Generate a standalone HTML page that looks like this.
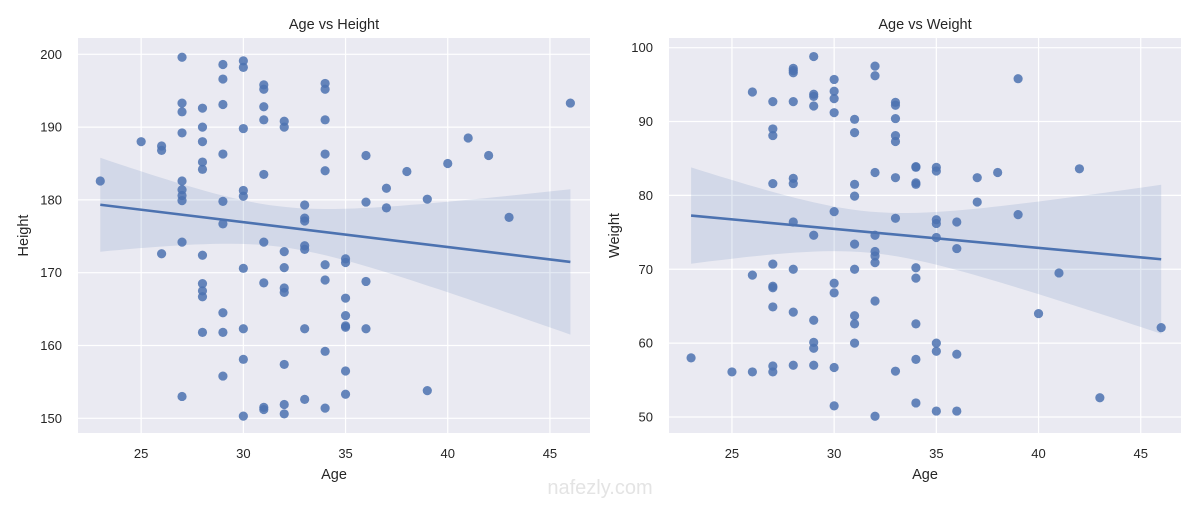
<!DOCTYPE html>
<html><head><meta charset="utf-8"><style>
body{margin:0;background:#fff;}
svg text{font-family:"Liberation Sans",Arial,sans-serif;fill:#262626;}
</style></head><body>
<svg id="chart" width="1200" height="500" xmlns="http://www.w3.org/2000/svg"></svg>
<script>
const ages1=[23,25,26,26,26,27,27,27,27,27,27,27,27,27,27,28,28,28,28,28,28,28,28,28,28,29,29,29,29,29,29,29,29,29,30,30,30,30,30,30,30,30,30,31,31,31,31,31,31,31,31,31,32,32,32,32,32,32,32,32,32,33,33,33,33,33,33,33,34,34,34,34,34,34,34,34,34,35,35,35,35,35,35,35,35,36,36,36,36,37,37,38,39,39,40,41,42,43,46];
const heights=[182.6,188,187.4,186.8,172.6,199.6,193.3,192.1,189.2,182.6,181.4,180.6,179.9,174.2,153,192.6,190,188,185.2,184.2,172.4,168.5,167.5,166.7,161.8,198.6,196.6,193.1,186.3,179.8,176.7,164.5,161.8,155.8,199.1,198.2,189.8,181.3,180.5,170.6,162.3,158.1,150.3,195.8,195.2,192.8,191,183.5,174.2,168.6,151.5,151.2,190.8,190,172.9,170.7,167.9,167.3,157.4,151.9,150.6,179.3,177.5,177.1,173.7,173.2,162.3,152.6,196,195.2,191,186.3,184,171.1,169,159.2,151.4,171.9,171.4,166.5,164.1,162.7,162.5,156.5,153.3,186.1,179.7,168.8,162.3,181.6,178.9,183.9,180.1,153.8,185,188.5,186.1,177.6,193.3];
const ages2=[23,25,26,26,26,27,27,27,27,27,27,27,27,27,27,28,28,28,28,28,28,28,28,28,28,29,29,29,29,29,29,29,29,29,30,30,30,30,30,30,30,30,30,31,31,31,31,31,31,31,31,31,32,32,32,32,32,32,32,32,32,33,33,33,33,33,33,33,33,34,34,34,34,34,34,34,34,34,35,35,35,35,35,35,35,35,36,36,36,36,37,37,38,39,39,40,41,42,43,46];
const weights=[58,56.1,94,69.2,56.1,92.7,89,88.1,81.6,70.7,67.7,67.5,64.9,56.9,56.1,97.2,96.9,96.6,92.7,82.3,81.6,76.4,70,64.2,57,98.8,93.7,93.4,92.1,74.6,63.1,60.1,59.3,57,95.7,94.1,93.1,91.2,77.8,68.1,66.8,56.7,51.5,90.3,88.5,81.5,79.9,73.4,70,63.7,62.6,60,97.5,96.2,83.1,74.6,72.4,71.8,70.9,65.7,50.1,92.6,92.2,90.4,88.1,87.3,82.4,76.9,56.2,83.9,83.8,81.7,81.5,70.2,68.8,62.6,57.8,51.9,83.8,83.3,76.7,76.2,74.3,60,58.9,50.8,76.4,72.8,58.5,50.8,82.4,79.1,83.1,95.8,77.4,64,69.5,83.6,52.6,62.1];
const xTicks=[25,30,35,40,45];
const hTicks=[150,160,170,180,190,200];
const wTicks=[50,60,70,80,90,100];

const NS="http://www.w3.org/2000/svg";
const svg=document.getElementById('chart');
function mk(tag,attrs,parent){const e=document.createElementNS(NS,tag);for(const k in attrs)e.setAttribute(k,attrs[k]);(parent||svg).appendChild(e);return e;}

function panel(cfg){
  const {x0,x1,y0,y1,xd,yd,xs,ys,yticks,title,ylabel,key}=cfg;
  const g=mk('g',{});
  
  
  const sx=v=>x0+(v-xd[0])/(xd[1]-xd[0])*(x1-x0);
  const sy=v=>y1-(v-yd[0])/(yd[1]-yd[0])*(y1-y0);
  const bg=mk('rect',{x:x0,y:y0,width:x1-x0,height:y1-y0,fill:'#eaeaf2'},g);
  
  
  xTicks.forEach(t=>{
    const l=mk('line',{x1:sx(t),x2:sx(t),y1:y0,y2:y1,stroke:'#fff','stroke-width':1.2},g);
    
    
    const tx=mk('text',{x:sx(t),y:y1+25,'text-anchor':'middle','font-size':13},g);
    tx.textContent=t;
    
    
  });
  yticks.forEach(t=>{
    const l=mk('line',{x1:x0,x2:x1,y1:sy(t),y2:sy(t),stroke:'#fff','stroke-width':1.2},g);
    
    
    const tx=mk('text',{x:x0-16,y:sy(t)+4.5,'text-anchor':'end','font-size':13},g);
    tx.textContent=t;
    
    
  });
  // regression
  const n=xs.length;
  const mx=xs.reduce((a,b)=>a+b,0)/n, my=ys.reduce((a,b)=>a+b,0)/n;
  let sxx=0,sxy=0;for(let i=0;i<n;i++){sxx+=(xs[i]-mx)**2;sxy+=(xs[i]-mx)*(ys[i]-my);}
  const b=sxy/sxx,a=my-b*mx;
  let sse=0;for(let i=0;i<n;i++)sse+=(ys[i]-a-b*xs[i])**2;
  const s=Math.sqrt(sse/(n-2));
  const xmin=Math.min(...xs),xmax=Math.max(...xs);
  const up=[],lo=[];
  for(let k=0;k<=50;k++){
    const xv=xmin+(xmax-xmin)*k/50;
    const yh=a+b*xv;
    const se=1.984*s*Math.sqrt(1/n+(xv-mx)**2/sxx);
    up.push(sx(xv).toFixed(1)+','+sy(yh+se).toFixed(1));
    lo.unshift(sx(xv).toFixed(1)+','+sy(yh-se).toFixed(1));
  }
  const band=mk('polygon',{points:up.concat(lo).join(' '),fill:'#4c72b0','fill-opacity':0.15},g);
  
  
  for(let i=0;i<n;i++){
    const c=mk('circle',{cx:sx(xs[i]),cy:sy(ys[i]),r:4.6,fill:'#4c72b0','fill-opacity':0.85},g);
    
    
  }
  const ln=mk('line',{x1:sx(xmin),y1:sy(a+b*xmin),x2:sx(xmax),y2:sy(a+b*xmax),stroke:'#4c72b0','stroke-width':2.6},g);
  
  
  const tt=mk('text',{x:(x0+x1)/2,y:29,'text-anchor':'middle','font-size':14.5},g);
  tt.textContent=title;
  
  
  const xl=mk('text',{x:(x0+x1)/2,y:479,'text-anchor':'middle','font-size':14.5},g);
  xl.textContent='Age';
  
  
  const cy=(y0+y1)/2;
  const yl=mk('text',{x:x0-50,y:cy,'text-anchor':'middle','font-size':14.5,transform:`rotate(-90 ${x0-50} ${cy})`},g);
  yl.textContent=ylabel;
  
  
}
panel({x0:78,x1:590,y0:38,y1:433,xd:[21.91,46.96],yd:[147.98,202.24],xs:ages1,ys:heights,yticks:hTicks,title:'Age vs Height',ylabel:'Height',key:'height'});
panel({x0:669,x1:1181,y0:38,y1:433,xd:[21.92,46.97],yd:[47.83,101.31],xs:ages2,ys:weights,yticks:wTicks,title:'Age vs Weight',ylabel:'Weight',key:'weight'});
const wm=mk('text',{x:600,y:494,'text-anchor':'middle','font-size':20,style:'fill:#e4e4e4'});
wm.textContent='nafezly.com';


</script>
</body></html>
